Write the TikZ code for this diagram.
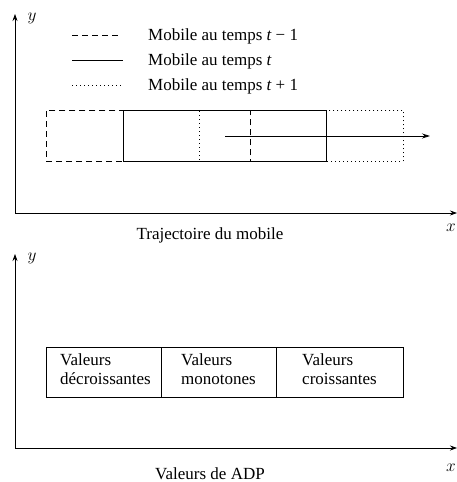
\documentclass[tikz,border=0pt]{standalone}
\usepackage{fontspec}
\setmainfont{Liberation Serif}
\usetikzlibrary{arrows.meta}
\tikzset{
  axis/.style={line width=0.7pt,-{Stealth[length=7pt,width=5pt]}},
  stroke/.style={line width=0.8pt},
  dashedline/.style={stroke,dash pattern=on 6pt off 4pt},
  dottedline/.style={stroke,dash pattern=on 1pt off 3pt},
  label/.style={inner sep=0pt,font=\fontsize{17}{19}\selectfont},
  axislabel/.style={inner sep=0pt,font=\fontsize{17.5}{19}\selectfont},
  legendtext/.style={label,anchor=west},
  boxtext/.style={label,anchor=north west,align=left},
  frame/.style={draw,stroke,inner sep=0pt,anchor=north west}
}
\begin{document}
\begin{tikzpicture}[x=1pt,y=-1pt]
\useasboundingbox (0,0) rectangle (457,482);

% ---------- upper panel: trajectory of the mobile ----------
\coordinate (o1) at (15,213);
\coordinate (y1) at (15,14);
\coordinate (x1) at (457,213);
\draw[axis] (o1) -- (y1);
\draw[axis] (o1) -- (x1);
\node[axislabel] (ly1) at (32,18) {$y$};
\node[axislabel] (lx1) at (451,228) {$x$};

% legend
\coordinate (la) at (72,35);  \coordinate (lb) at (119,35);
\coordinate (ma) at (72,60);  \coordinate (mb) at (123,60);
\coordinate (na) at (72,85);  \coordinate (nb) at (121,85);
\draw[dashedline] (la) -- (lb);
\draw[stroke] (ma) -- (mb);
\draw[dottedline] (na) -- (nb);
\node[legendtext] (t1) at (148,36) {Mobile au temps {\itshape t} − 1};
\node[legendtext] (t2) at (148,61) {Mobile au temps {\itshape t}};
\node[legendtext] (t3) at (148,86) {Mobile au temps {\itshape t} + 1};

% positions of the mobile
\node[frame,dashedline,minimum width=204pt,minimum height=51pt] (prev) at (46,110) {};
\node[frame,dottedline,minimum width=204pt,minimum height=51pt] (next) at (199,110) {};
\node[frame,minimum width=203pt,minimum height=51pt] (curr) at (123,110) {};
\coordinate (ma1) at (225,136);
\coordinate (ma2) at (430,136);
\draw[stroke,-{Stealth[length=8pt,width=5pt]}] (ma1) -- (ma2);

\node[label] (cap1) at (210,235) {Trajectoire du mobile};

% ---------- lower panel: ADP values ----------
\coordinate (o2) at (15,448);
\coordinate (y2) at (15,254);
\coordinate (x2) at (457,448);
\draw[axis] (o2) -- (y2);
\draw[axis] (o2) -- (x2);
\node[axislabel] (ly2) at (32,258) {$y$};
\node[axislabel] (lx2) at (451,468) {$x$};

\node[frame,minimum width=115pt,minimum height=50pt] (dec) at (46,347) {};
\node[frame,minimum width=115pt,minimum height=50pt] (mon) at (161,347) {};
\node[frame,minimum width=127pt,minimum height=50pt] (cro) at (276,347) {};
\node[boxtext] (tdec) at (60,353) {Valeurs\\décroissantes};
\node[boxtext] (tmon) at (181,353) {Valeurs\\monotones};
\node[boxtext] (tcro) at (302,353) {Valeurs\\croissantes};

\node[label] (cap2) at (210,474) {Valeurs de ADP};
\end{tikzpicture}
\end{document}
